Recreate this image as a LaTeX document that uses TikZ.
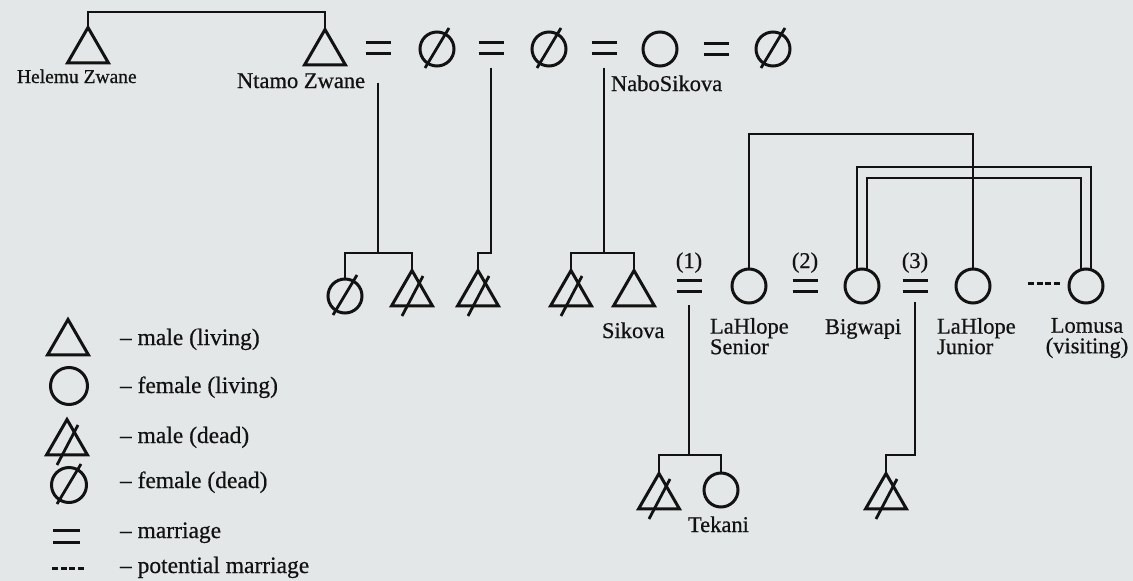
\documentclass[tikz,border=0pt]{standalone}
\usepackage{fontspec}
\setmainfont{Liberation Serif}[FakeBold=0.6]
\usetikzlibrary{shapes.geometric}

\definecolor{paper}{RGB}{227,231,231}
\definecolor{ink}{RGB}{18,18,18}

% type sizes for names, the older generation and the key
\newcommand\namefont{\fontsize{22.5}{20.5}\selectfont\lineskiplimit=-50pt\relax}
\newcommand\eldfont{\fontsize{19.5}{22}\selectfont}
\newcommand\keyfont{\fontsize{23.5}{26}\selectfont}

\begin{document}
\begin{tikzpicture}[x=1pt,y=-1pt,color=ink,
  every node/.style={inner sep=0pt, outer sep=0pt},
  male/.style={draw, regular polygon, regular polygon sides=3, minimum size=47pt, line width=3pt},
  female/.style={draw, circle, minimum size=34pt, line width=3pt},
  wed/.style={minimum width=25pt, minimum height=11pt},
  lbl/.style={font=\namefont},
  keytext/.style={font=\keyfont, anchor=base west},
  kin/.style={line width=2.8pt},
  bar/.style={line width=3pt},
  slash/.style={line width=2.8pt},
  maybe/.style={line width=3pt, dash pattern=on 5.9pt off 2.8pt},
]
\fill[paper] (0,0) rectangle (1133,581);
\useasboundingbox (0,0) rectangle (1133,581);

% ---- first generation
\node[male] (hel) at (88,51) {};
\node[male] (nta) at (325,53) {};
\node[wed] (w1) at (378,48) {};
\node[female] (f1) at (437,49) {};
\node[wed] (w2) at (491,48) {};
\node[female] (f2) at (549,49) {};
\node[wed] (w3) at (604,48) {};
\node[female] (nab) at (660,49) {};
\node[wed] (w4) at (716,49) {};
\node[female] (f3) at (773,49) {};

\node[lbl, font=\eldfont, anchor=base west] (helL) at (17,83) {Helemu Zwane};
\node[lbl, anchor=base west] (ntaL) at (237,88) {Ntamo Zwane};
\node[lbl, anchor=base west] (nabL) at (611,91) {NaboSikova};

% ---- second generation
\node[female] (c1) at (345,296) {};
\node[male] (s1) at (412,294) {};
\node[male] (s2) at (478,294) {};
\node[male] (s3) at (571,294) {};
\node[male] (sik) at (634,294) {};
\node[wed] (wa) at (689,285.5) {};
\node[female] (lhs) at (749,286) {};
\node[wed] (wb) at (805,285.5) {};
\node[female] (big) at (862,286) {};
\node[wed] (wc) at (915,285.5) {};
\node[female] (lhj) at (973,286) {};
\node[female] (lom) at (1086,286) {};

\node[lbl, anchor=base] (na) at (689,268) {(1)};
\node[lbl, anchor=base] (nb) at (805,268) {(2)};
\node[lbl, anchor=base] (nc) at (915,268) {(3)};
\node[lbl, anchor=base west] (sikL) at (602,338) {Sikova};
\node[lbl, anchor=north west, align=left] (lhsL) at (710,318) {LaHlope\\Senior};
\node[lbl, anchor=base west] (bigL) at (825,334) {Bigwapi};
\node[lbl, anchor=north west, align=left] (lhjL) at (937,318) {LaHlope\\Junior};
\node[lbl, anchor=north, align=center] (lomL) at (1087,318) {Lomusa\\(visiting)};

% ---- third generation
\node[male] (s4) at (659,497) {};
\node[female] (tek) at (721,490) {};
\node[male] (s5) at (886,497) {};
\node[lbl, anchor=base west] (tekL) at (688,532) {Tekani};

% ---- key
\node[male] (k1) at (68,343) {};
\node[female, minimum size=37pt] (k2) at (69,386) {};
\node[male] (k3) at (67,443) {};
\node[female, minimum size=35pt] (k4) at (69,485) {};
\node[wed, minimum width=27pt, minimum height=12pt] (k5) at (66.5,536) {};
\coordinate (k6a) at (52,568);
\coordinate (k6b) at (85,568);

\node[keytext] (t1) at (120,345) {-- male (living)};
\node[keytext] (t2) at (120,393) {-- female (living)};
\node[keytext] (t3) at (120,443) {-- male (dead)};
\node[keytext] (t4) at (120,488) {-- female (dead)};
\node[keytext] (t5) at (120,538) {-- marriage};
\node[keytext] (t6) at (120,573) {-- potential marriage};

% ---- marriage signs and death strokes
\foreach \n in {w1,w2,w3,w4,wa,wb,wc,k5}
  \draw[bar] (\n.north west) -- (\n.north east) (\n.south west) -- (\n.south east);
\foreach \n in {s1,s2,s3,s4,s5,k3}
  \draw[slash] ([shift={(-10,22)}]\n.center) -- ([shift={(11,-18)}]\n.center);
\foreach \n in {f1,f2,f3,c1,k4}
  \draw[slash] ([shift={(-12,19)}]\n.center) -- ([shift={(12,-21)}]\n.center);

% ---- descent and sibling lines
\draw[kin] (hel.north) |- (nta.north |- 0,12) -- (nta.north);

\draw[kin] ([yshift=-29pt]w1.south) -- (w1.south |- 0,253) coordinate (j1);
\draw[kin] (c1.north) |- (j1) -| (s1.north);
\draw[kin] ([yshift=-14pt]w2.south) |- (s2.north |- 0,253) -- (s2.north);
\draw[kin] ([yshift=-14pt]w3.south) -- (w3.south |- 0,253) coordinate (j3);
\draw[kin] (s3.north) |- (j3) -| (sik.north);

\draw[kin] (lhs.north) |- (lhj.north |- 0,134) -- (lhj.north);
\draw[kin] (big.107) |- (lom.73 |- 0,167) -- (lom.73);
\draw[kin] (big.73) |- (lom.107 |- 0,178) -- (lom.107);
\draw[maybe] ([xshift=38pt,yshift=3pt]lhj.east) -- ([xshift=-9pt,yshift=3pt]lom.west);

\draw[kin] ([yshift=-14pt]wa.south) -- (wa.south |- 0,455) coordinate (ja);
\draw[kin] (s4.north) |- (ja) -| (tek.north);
\draw[kin] ([yshift=-11pt]wc.south) |- (s5.north |- 0,455) -- (s5.north);

\draw[maybe] (k6a) -- (k6b);
\end{tikzpicture}
\end{document}
